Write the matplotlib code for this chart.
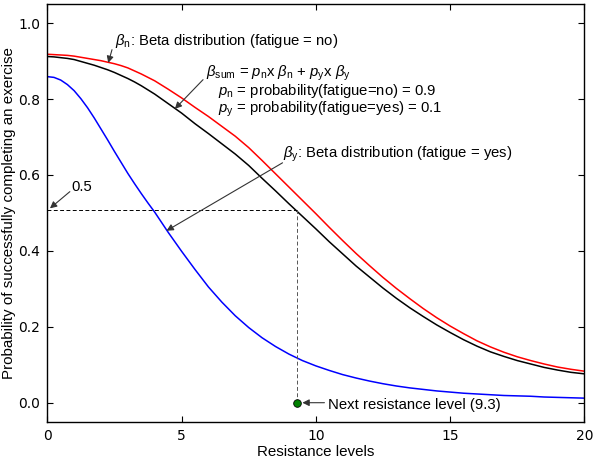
import matplotlib
matplotlib.use('Agg')
import matplotlib.pyplot as plt

plt.rcParams['font.family'] = ['Liberation Sans', 'DejaVu Sans']
plt.rcParams['mathtext.fontset'] = 'custom'
plt.rcParams['mathtext.rm'] = 'Liberation Sans'
plt.rcParams['mathtext.it'] = 'Liberation Sans:italic'

# resistance levels: quarter steps up to 4, then half steps
levels = [0.0, 0.25, 0.5, 0.75, 1.0, 1.25, 1.5, 1.75, 2.0, 2.25, 2.5, 2.75, 3.0,
          3.25, 3.5, 3.75, 4.0, 4.5, 5.0, 5.5, 6.0, 6.5, 7.0, 7.5, 8.0, 8.5,
          9.0, 9.5, 10.0, 10.5, 11.0, 11.5, 12.0, 12.5, 13.0, 13.5, 14.0, 14.5,
          15.0, 15.5, 16.0, 16.5, 17.0, 17.5, 18.0, 18.5, 19.0, 19.5, 20.0]

# beta_n: fatigue = no (red)
beta_n = [0.918, 0.917, 0.916, 0.915, 0.913, 0.910, 0.907, 0.904, 0.901, 0.897,
          0.893, 0.888, 0.882, 0.874, 0.866, 0.857, 0.848, 0.826,
          0.803, 0.778, 0.754, 0.728, 0.702, 0.672, 0.638, 0.603,
          0.568, 0.533, 0.498, 0.462, 0.427, 0.393, 0.361, 0.330, 0.301, 0.274,
          0.248, 0.224, 0.202, 0.182, 0.163, 0.147, 0.133, 0.121, 0.111, 0.102,
          0.094, 0.088, 0.083]

# beta_y: fatigue = yes (blue)
beta_y = [0.859, 0.857, 0.850, 0.838, 0.822, 0.801, 0.777, 0.750, 0.721, 0.692,
          0.662, 0.633, 0.604, 0.577, 0.551, 0.526, 0.502, 0.449,
          0.399, 0.351, 0.305, 0.265, 0.229, 0.198, 0.171, 0.148,
          0.128, 0.111, 0.097, 0.085, 0.074, 0.065, 0.057, 0.050, 0.044, 0.039,
          0.035, 0.031, 0.028, 0.025, 0.023, 0.021, 0.019, 0.018, 0.017, 0.015,
          0.014, 0.013, 0.012]

# beta_sum (black)
beta_sum = [0.912, 0.911, 0.909, 0.907, 0.904, 0.899, 0.894, 0.889, 0.883, 0.877,
            0.870, 0.862, 0.854, 0.845, 0.835, 0.824, 0.813, 0.788,
            0.763, 0.735, 0.709, 0.682, 0.655, 0.625, 0.591, 0.558,
            0.524, 0.491, 0.458, 0.424, 0.392, 0.360, 0.331, 0.302, 0.275, 0.250,
            0.227, 0.205, 0.185, 0.166, 0.149, 0.134, 0.122, 0.111, 0.102, 0.093,
            0.086, 0.080, 0.076]

next_level = 9.3
next_prob = 0.507

xticks = [0, 5, 10, 15, 20]
yticks = [0.0, 0.2, 0.4, 0.6, 0.8, 1.0]

TXT = 10.7
LBL = 10.9
ARROW = dict(arrowstyle='-|>', color='#333333', lw=0.8, mutation_scale=10,
             shrinkA=0, shrinkB=0)

fig = plt.figure(figsize=(6.0, 4.59), dpi=100)
ax = fig.add_axes([0.0788, 0.0813, 0.8952, 0.9097])

ax.plot(levels, beta_n, color='#ff0000', lw=1.1)
ax.plot(levels, beta_sum, color='black', lw=1.1)
ax.plot(levels, beta_y, color='#0000ff', lw=1.1)

ax.plot([0, next_level], [next_prob, next_prob], color='black', lw=0.7,
        linestyle=(0, (4, 2.5)))
ax.plot([next_level, next_level], [0, next_prob], color='#555555', lw=0.7,
        linestyle=(0, (4, 2.5)))
ax.plot([next_level], [0], 'o', color='#008000', markeredgecolor='black',
        markeredgewidth=0.6, ms=5.5, zorder=5)

# annotations
ax.annotate('', xy=(0.1, 0.512), xytext=(0.84, 0.556), arrowprops=ARROW)
ax.text(0.9, 0.557, '0.5', fontsize=TXT, va='baseline', ha='left')

ax.annotate('', xy=(2.27, 0.895), xytext=(2.41, 0.93), arrowprops=ARROW)
ax.text(2.52, 0.943, r'$\beta_\mathrm{n}$: Beta distribution (fatigue = no)',
        fontsize=TXT, va='baseline', ha='left')

ax.annotate('', xy=(4.75, 0.774), xytext=(5.8, 0.851), arrowprops=ARROW)
sum_text = (r'$\beta_\mathrm{sum}$ = $p_\mathrm{n}$x $\beta_\mathrm{n}$ + '
            r'$p_\mathrm{y}$x $\beta_\mathrm{y}$' '\n'
            r'   $p_\mathrm{n}$ = probability(fatigue=no) = 0.9' '\n'
            r'   $p_\mathrm{y}$ = probability(fatigue=yes) = 0.1')
ax.text(5.92, 0.894, sum_text, fontsize=TXT, va='top', ha='left',
        linespacing=0.95)

ax.annotate('', xy=(4.44, 0.453), xytext=(8.76, 0.632), arrowprops=ARROW)
ax.text(8.78, 0.647, r'$\beta_\mathrm{y}$: Beta distribution (fatigue = yes)',
        fontsize=TXT, va='baseline', ha='left')

ax.annotate('', xy=(9.5, 0.0), xytext=(10.32, 0.0), arrowprops=ARROW)
ax.text(10.45, -0.016, 'Next resistance level (9.3)', fontsize=TXT,
        va='baseline', ha='left')

ax.set_xlim(0, 20)
ax.set_ylim(-0.05, 1.05)
ax.set_xticks(xticks)
ax.set_yticks(yticks)
ax.set_xticklabels([str(t) for t in xticks], fontfamily='DejaVu Sans', fontsize=10)
ax.set_yticklabels(['%.1f' % t for t in yticks], fontfamily='DejaVu Sans', fontsize=10)
ax.tick_params(direction='in', top=True, right=True, length=4, width=0.8, pad=5)
for sp in ax.spines.values():
    sp.set_linewidth(1.0)

ax.set_xlabel('Resistance levels', fontsize=LBL, labelpad=2)
ax.set_ylabel('Probability of successfully completing an exercise', fontsize=LBL,
              labelpad=2)

fig.savefig('out.png', dpi=100)
